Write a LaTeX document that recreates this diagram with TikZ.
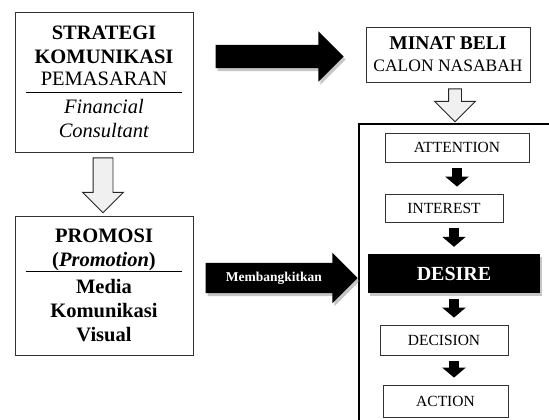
\documentclass[tikz,border=0pt]{standalone}
\usepackage{fontspec}
\setmainfont{Liberation Serif}
\usetikzlibrary{shapes.arrows, shadows, arrows.meta}
\tikzstyle{box} = [rectangle, draw=black!80, line width=0.8pt, align=center, inner sep=2pt]
\tikzstyle{stage} = [rectangle, draw=black!80, line width=0.8pt, minimum height=30pt, text centered, font=\fontsize{15.5}{18}\selectfont, inner sep=2pt]
\tikzstyle{hollow} = [single arrow, draw=black!85, line width=0.9pt, fill=gray!12, single arrow tip angle=90, shape border rotate=270, anchor=tail]
\tikzstyle{bigarrow} = [single arrow, fill=black, single arrow tip angle=90, anchor=tail, drop shadow={shadow xshift=2pt, shadow yshift=-3pt, opacity=0.45}]
\tikzstyle{arrow} = [line width=10pt, -{Triangle[width=23pt,length=10pt]}, shorten <=6pt, shorten >=7pt]

\begin{document}
\begin{tikzpicture}[x=1pt, y=-1pt, node distance=63pt]
\useasboundingbox (0,0) rectangle (549,420);
\clip (0,0) rectangle (549,420);

% Left boxes
\node (s1) [box, minimum width=178pt, minimum height=140pt, font=\fontsize{20.5}{24}\selectfont] at (104,82)
  {\textbf{STRATEGI}\\\textbf{KOMUNIKASI}\\[-2pt]PEMASARAN\\[4pt]\textit{Financial}\\\textit{Consultant}};
\node (p1) [box, minimum width=178pt, minimum height=139pt, font=\fontsize{20.5}{24}\selectfont\bfseries] at (104,285.5)
  {PROMOSI\\(\textit{Promotion})\\[3pt]Media\\Komunikasi\\Visual};
\draw [line width=0.8pt] ([shift={(11pt,-81pt)}]s1.north west) -- ([shift={(-11pt,-81pt)}]s1.north east);
\draw [line width=0.8pt] ([shift={(11pt,-56pt)}]p1.north west) -- ([shift={(-11pt,-56pt)}]p1.north east);

% Right box
\node (minat) [box, minimum width=164pt, minimum height=55pt, font=\fontsize{17.5}{22}\selectfont] at (448,54.5)
  {{\fontsize{19.5}{22}\selectfont\textbf{MINAT BELI}}\\CALON NASABAH};

% AIDA frame
\draw [line width=1.3pt] (359,430) |- (560,124);

% AIDA stages
\node (att) [stage, minimum width=144pt, minimum height=29pt] at (457,147.5) {ATTENTION};
\node (int) [stage, below of=att, xshift=-13pt, yshift=2.5pt, minimum width=118pt, minimum height=28pt] {INTEREST};
\node (des) [rectangle, fill=black, below of=int, xshift=10pt, yshift=-2.5pt, minimum width=172pt, minimum height=39pt,
  text=white, font=\fontsize{20}{24}\selectfont\bfseries, drop shadow={shadow xshift=2pt, shadow yshift=-3pt, opacity=0.45}] {DESIRE};
\node (dec) [stage, below of=des, xshift=-10pt, yshift=-3.5pt, minimum width=128pt] {DECISION};
\node (act) [stage, below of=dec, xshift=1.5pt, yshift=2pt, minimum width=125pt, minimum height=32pt] {ACTION};

% Block arrows
\node (down1) [hollow, inner sep=9.5pt, single arrow head extend=10.5pt, minimum height=55pt] at ([xshift=-1pt, yshift=-5pt]s1.south) {};
\node (down2) [hollow, inner sep=6pt, single arrow head extend=14pt, minimum height=33pt] at ([xshift=7pt, yshift=-6pt]minat.south) {};
\node (right1) [bigarrow, inner sep=11.5pt, single arrow head extend=13.5pt, minimum height=128pt] at ([xshift=22pt, yshift=-2pt]s1.east |- minat.west) {};
\node (right2) [bigarrow, inner ysep=9pt, inner xsep=4pt, text height=9pt, text depth=3pt, single arrow head extend=10pt, minimum height=152pt,
  text=white, font=\fontsize{13.5}{16}\selectfont\bfseries] at ([xshift=12pt, yshift=7.5pt]p1.east) {Membangkitkan};

% Stage arrows
\draw [arrow] (att.south) -- (att.south |- int.north);
\draw [arrow] (des.north |- int.south) -- (des.north);
\draw [arrow] (des.south) -- (des.south |- dec.north);
\draw [arrow] (des.south |- dec.south) -- (des.south |- act.north);

\end{tikzpicture}
\end{document}
